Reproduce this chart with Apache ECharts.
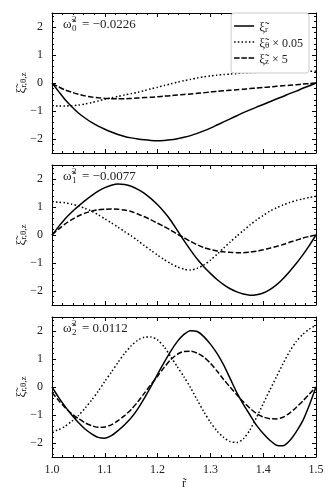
<!DOCTYPE html>
<html><head><meta charset="utf-8">
<script src="https://cdn.jsdelivr.net/npm/echarts@6/dist/echarts.min.js"></script>
<style>html,body{margin:0;padding:0;background:#fff}#c{width:335px;height:503px}</style>
</head><body><div id="c"></div>
<script>
// ---- data ----
const r = [1.0,1.0125,1.025,1.0375,1.05,1.0625,1.075,1.0875,1.1,1.1125,1.125,1.1375,1.15,1.1625,1.175,1.1875,1.2,1.2125,1.225,1.2375,1.25,1.2625,1.275,1.2875,1.3,1.3125,1.325,1.3375,1.35,1.3625,1.375,1.3875,1.4,1.4125,1.425,1.4375,1.45,1.4625,1.475,1.4875,1.5];

// mode 0
const xiR0  = [0,-0.3,-0.6,-0.85,-1.07,-1.25,-1.41,-1.54,-1.65,-1.75,-1.84,-1.91,-1.96,-2.0,-2.03,-2.05,-2.06,-2.05,-2.03,-1.99,-1.94,-1.88,-1.8,-1.71,-1.61,-1.5,-1.39,-1.28,-1.17,-1.06,-0.96,-0.86,-0.77,-0.67,-0.57,-0.48,-0.38,-0.29,-0.19,-0.1,0];
const xiTh0 = [-0.82,-0.82,-0.82,-0.81,-0.79,-0.75,-0.7,-0.64,-0.58,-0.53,-0.48,-0.43,-0.38,-0.33,-0.27,-0.21,-0.15,-0.09,-0.03,0.03,0.08,0.13,0.18,0.22,0.25,0.28,0.3,0.32,0.34,0.36,0.37,0.38,0.39,0.4,0.4,0.41,0.41,0.42,0.42,0.42,0.42];
const xiZ0  = [-0.02,-0.14,-0.25,-0.33,-0.4,-0.46,-0.5,-0.53,-0.55,-0.56,-0.56,-0.56,-0.55,-0.54,-0.52,-0.51,-0.49,-0.47,-0.45,-0.43,-0.41,-0.39,-0.37,-0.35,-0.32,-0.3,-0.28,-0.26,-0.24,-0.22,-0.2,-0.18,-0.16,-0.14,-0.12,-0.1,-0.08,-0.06,-0.04,-0.02,0];

// mode 1
const xiR1  = [0,0.3,0.58,0.82,1.03,1.23,1.41,1.57,1.69,1.78,1.82,1.8,1.74,1.63,1.49,1.3,1.08,0.82,0.52,0.16,-0.2,-0.54,-0.86,-1.13,-1.37,-1.59,-1.77,-1.92,-2.03,-2.11,-2.15,-2.13,-2.07,-1.95,-1.78,-1.56,-1.3,-1.02,-0.71,-0.37,0];
const xiTh1 = [1.18,1.17,1.15,1.1,1.04,0.95,0.85,0.72,0.58,0.43,0.28,0.12,-0.03,-0.2,-0.38,-0.55,-0.72,-0.88,-1.02,-1.14,-1.22,-1.25,-1.19,-1.07,-0.9,-0.69,-0.47,-0.25,-0.04,0.16,0.36,0.54,0.7,0.85,0.97,1.07,1.16,1.23,1.29,1.34,1.38];
const xiZ1  = [0,0.21,0.4,0.55,0.68,0.78,0.85,0.9,0.92,0.93,0.92,0.89,0.84,0.75,0.65,0.54,0.42,0.3,0.17,0.03,-0.1,-0.23,-0.35,-0.45,-0.52,-0.57,-0.6,-0.62,-0.63,-0.63,-0.61,-0.58,-0.53,-0.47,-0.41,-0.34,-0.26,-0.19,-0.11,-0.05,0];

// mode 2
const xiR2  = [0,-0.37,-0.7,-1.0,-1.27,-1.5,-1.67,-1.8,-1.83,-1.74,-1.56,-1.35,-1.1,-0.78,-0.4,0.02,0.46,0.88,1.28,1.63,1.88,2.01,1.98,1.8,1.53,1.2,0.79,0.3,-0.2,-0.62,-1.0,-1.37,-1.66,-1.9,-2.08,-2.1,-1.92,-1.6,-1.2,-0.64,0];
const xiTh2 = [-1.58,-1.53,-1.4,-1.22,-1.02,-0.76,-0.47,-0.15,0.2,0.53,0.88,1.2,1.47,1.67,1.78,1.79,1.68,1.43,1.08,0.72,0.36,-0.03,-0.46,-0.88,-1.26,-1.57,-1.8,-1.95,-1.98,-1.85,-1.53,-1.08,-0.6,-0.11,0.36,0.83,1.27,1.62,1.88,2.07,2.2];
const xiZ2  = [-0.2,-0.48,-0.74,-0.96,-1.13,-1.28,-1.38,-1.44,-1.43,-1.35,-1.2,-1.02,-0.8,-0.53,-0.22,0.09,0.39,0.7,0.98,1.17,1.27,1.28,1.21,1.07,0.85,0.57,0.27,-0.01,-0.28,-0.53,-0.76,-0.95,-1.07,-1.13,-1.14,-1.08,-0.93,-0.73,-0.5,-0.25,0];

const modeIndex = ['0','1','2'];
const omega2 = ['\u22120.0226','\u22120.0077','0.0112'];
const seriesNames = ['xi_r','xi_theta','xi_z'];
const legendLabels = ['{a|\u03BE\u0303}{s|r}', '{a|\u03BE\u0303}{s|\u03B8}{b| \u00D7 0.05}', '{a|\u03BE\u0303}{s|z}{b| \u00D7 5}'];
const yLabel = '{a|\u03BE\u0303}{s|r,\u03B8,z}';

const xMajor = [1.0,1.1,1.2,1.3,1.4,1.5];
const xMinor = [1.02,1.04,1.06,1.08,1.12,1.14,1.16,1.18,1.22,1.24,1.26,1.28,1.32,1.34,1.36,1.38,1.42,1.44,1.46,1.48];
const yMajor = [-2,-1,0,1,2];
const yMinor = [-2.4,-2.2,-1.8,-1.6,-1.4,-1.2,-0.8,-0.6,-0.4,-0.2,0.2,0.4,0.6,0.8,1.2,1.4,1.6,1.8,2.2,2.4];

const panels = [[xiR0,xiTh0,xiZ0],[xiR1,xiTh1,xiZ1],[xiR2,xiTh2,xiZ2]];

// ---- layout / style ----
const tops = [13,165,317];
const H = 140, L = 52, R = 19;
const FONT = '"Liberation Serif","DejaVu Serif",serif';
const lineTypes = ['solid',[1.5,2.3],[5.5,2.2]];
const legendIcons = [
  'path://M0,0h20v1.5H0z',
  'path://M0,0h1.5v1.5H0z M3.7,0h1.5v1.5H3.7z M7.4,0h1.5v1.5H7.4z M11.1,0h1.5v1.5H11.1z M14.8,0h1.5v1.5H14.8z M18.5,0h1.5v1.5H18.5z',
  'path://M0,0h5.5v1.5H0z M7.25,0h5.5v1.5H7.25z M14.5,0h5.5v1.5H14.5z'
];

function fmtY(v){ return v < 0 ? '\u2212' + Math.abs(v) : String(v); }

const grid = [], xAxis = [], yAxis = [], series = [], graphic = [];
const noSplit = {show:false};
for (let g = 0; g < 3; g++) {
  grid.push({left:L, right:R, top:tops[g], height:H});
  const xb = {type:'value', gridIndex:g, min:1.0, max:1.5, splitLine:noSplit};
  const yb = {type:'value', gridIndex:g, min:-2.5, max:2.5, splitLine:noSplit};
  const line = {show:true, onZero:false, lineStyle:{color:'#000', width:1}};
  const noLine = {show:false, onZero:false};
  const tickStyle = {color:'#000', width:1};
  xAxis.push(Object.assign({}, xb, {position:'bottom', axisLine:line,
    axisTick:{show:true, inside:true, length:4, customValues:xMajor, lineStyle:tickStyle},
    axisLabel:{show:g===2, customValues:xMajor, formatter:v=>Number(v).toFixed(1), margin:7, fontSize:12, color:'#222', fontFamily:FONT},
    name: g===2 ? 'r\u0303' : '', nameLocation:'middle', nameGap:21,
    nameTextStyle:{fontSize:12, fontFamily:FONT, color:'#222'}}));
  xAxis.push(Object.assign({}, xb, {position:'top', axisLine:line,
    axisTick:{show:true, inside:true, length:4, customValues:xMajor, lineStyle:tickStyle}, axisLabel:{show:false}}));
  xAxis.push(Object.assign({}, xb, {position:'bottom', axisLine:noLine,
    axisTick:{show:true, inside:true, length:2, customValues:xMinor, lineStyle:tickStyle}, axisLabel:{show:false}}));
  xAxis.push(Object.assign({}, xb, {position:'top', axisLine:noLine,
    axisTick:{show:true, inside:true, length:2, customValues:xMinor, lineStyle:tickStyle}, axisLabel:{show:false}}));
  yAxis.push(Object.assign({}, yb, {position:'left', axisLine:line,
    axisTick:{show:true, inside:true, length:4, customValues:yMajor, lineStyle:tickStyle},
    axisLabel:{show:true, customValues:yMajor, formatter:fmtY, margin:9, fontSize:12, color:'#222', fontFamily:FONT}}));
  yAxis.push(Object.assign({}, yb, {position:'right', axisLine:line,
    axisTick:{show:true, inside:true, length:4, customValues:yMajor, lineStyle:tickStyle}, axisLabel:{show:false}}));
  yAxis.push(Object.assign({}, yb, {position:'left', axisLine:noLine,
    axisTick:{show:true, inside:true, length:2, customValues:yMinor, lineStyle:tickStyle}, axisLabel:{show:false}}));
  yAxis.push(Object.assign({}, yb, {position:'right', axisLine:noLine,
    axisTick:{show:true, inside:true, length:2, customValues:yMinor, lineStyle:tickStyle}, axisLabel:{show:false}}));

  for (let k = 0; k < 3; k++) {
    series.push({
      type:'line', name:seriesNames[k], xAxisIndex:4*g, yAxisIndex:4*g,
      data: r.map((x,i)=>[x, panels[g][k][i]]),
      smooth:0.25, symbol:'none', silent:true,
      lineStyle:{color:'#000', width:1.5, type:lineTypes[k], cap:'butt'},
      itemStyle:{color:'#000'}
    });
  }

  // y-axis title (rotated)
  graphic.push({type:'text', x:20, y:tops[g] + H/2, rotation:Math.PI/2, silent:true,
    style:{text:yLabel, align:'center', verticalAlign:'middle', fill:'#222',
      rich:{
        a:{fontSize:13, fontFamily:FONT, fill:'#222', lineHeight:16, verticalAlign:'bottom'},
        s:{fontSize:9, fontFamily:FONT, fill:'#222', lineHeight:10, verticalAlign:'bottom'}}}});

  const ty = tops[g] + 12;
  graphic.push({type:'text', x:63, y:ty, silent:true, style:{text:'\u03C9\u0303', font:'13px '+FONT, fill:'#222', verticalAlign:'middle'}});
  graphic.push({type:'text', x:72, y:ty-5, silent:true, style:{text:'2', font:'9px '+FONT, fill:'#222', verticalAlign:'middle'}});
  graphic.push({type:'text', x:72, y:ty+4, silent:true, style:{text:modeIndex[g], font:'9px '+FONT, fill:'#222', verticalAlign:'middle'}});
  graphic.push({type:'text', x:82, y:ty, silent:true, style:{text:'= ' + omega2[g], font:'13px '+FONT, fill:'#222', verticalAlign:'middle'}});
}

const chart = echarts.init(document.getElementById('c'), null, {renderer:'canvas'});
chart.setOption({
  animation:false,
  backgroundColor:'#fff',
  grid, xAxis, yAxis, series, graphic,
  legend:{
    data: seriesNames.map((n,i)=>({name:n, icon:legendIcons[i]})),
    orient:'vertical', top:13, right:26,
    itemWidth:20, itemHeight:1.5, itemGap:3, symbolKeepAspect:false,
    backgroundColor:'#fff', borderColor:'#cccccc', borderWidth:1, borderRadius:3,
    padding:[8,6,7,3],
    formatter: name => legendLabels[seriesNames.indexOf(name)],
    textStyle:{color:'#222', rich:{
      a:{fontSize:13, fontFamily:FONT, color:'#222', lineHeight:16, verticalAlign:'bottom'},
      s:{fontSize:9, fontFamily:FONT, color:'#222', lineHeight:10, verticalAlign:'bottom'},
      b:{fontSize:12, fontFamily:FONT, color:'#222', lineHeight:16, verticalAlign:'bottom'}
    }}
  }
});
</script></body></html>
